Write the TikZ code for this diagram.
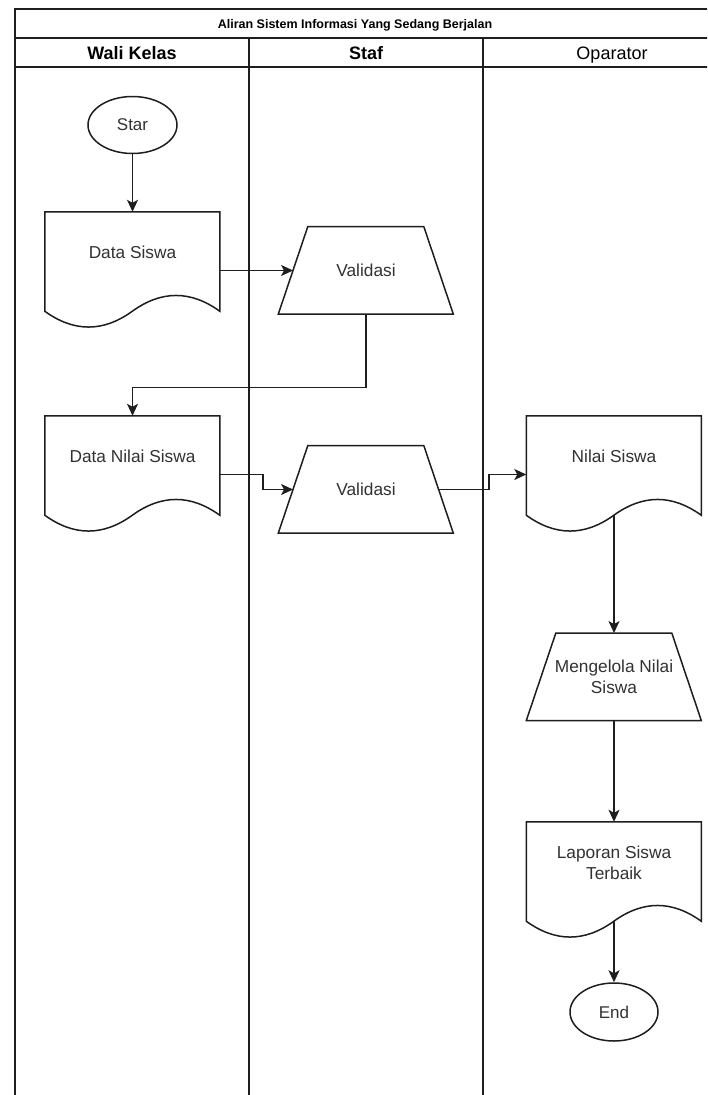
\documentclass[tikz,border=0pt]{standalone}
\usepackage{fontspec}
\setmainfont{Liberation Sans}
\usetikzlibrary{arrows.meta,shapes.geometric,calc}
\definecolor{ln}{RGB}{30,30,30}
\definecolor{tx}{RGB}{50,50,50}
\newcommand{\drawdoc}[1]{%
  \draw[line,shift={(#1.north west)}] (0,0) -- (175,0) -- (175,99.45)
    .. controls (145.83,78.39) and (116.67,78.39) .. (87.5,99.45)
    .. controls (58.33,120.51) and (29.17,120.51) .. (0,99.45) -- cycle;}
\newcommand{\drawtrap}[1]{%
  \draw[line,shift={(#1.north west)}] (0,87.5) -- (29.5,0) -- (145.5,0) -- (175,87.5) -- cycle;}
\begin{document}
\begin{tikzpicture}[x=1pt,y=-1pt,
  line/.style={draw=ln,line width=1.5pt},
  conn/.style={draw=ln,line width=1.5pt,-{Stealth[length=12pt,width=11pt,inset=3pt]}},
  docbox/.style={minimum width=175pt,minimum height=117pt,inner sep=0pt},
  trapbox/.style={minimum width=175pt,minimum height=87.5pt,inner sep=0pt,font=\fontsize{17.3}{21}\selectfont,text=tx,align=center},
  lbl/.style={font=\fontsize{17.3}{21}\selectfont,text=tx,align=center,inner sep=0pt},
  oval/.style={ellipse,draw=ln,line width=1.5pt,inner sep=0pt,font=\fontsize{17}{19}\selectfont,text=tx},
  lane/.style={draw=ln,line width=1.6pt},
  hdr/.style={font=\fontsize{18}{20}\selectfont\bfseries,text=black,inner sep=0pt,anchor=base},
  hdrn/.style={font=\fontsize{18}{20}\selectfont,text=black,inner sep=0pt,anchor=base},
  ttl/.style={font=\fontsize{12.5}{14}\selectfont\bfseries,text=black,inner sep=0pt,anchor=base}
]
\useasboundingbox (0,0) rectangle (707,1095);
\clip (0,0) rectangle (707,1095);
\fill[white] (0,0) rectangle (707,1095);
% pool and lanes
\draw[lane] (15,1100) -- (15,9) -- (750,9);
\draw[lane] (15,38) -- (750,38);
\draw[lane] (15,67) -- (750,67);
\draw[lane] (249,38) -- (249,1100);
\draw[lane] (483,38) -- (483,1100);
\node[ttl] (title) at (355,28) {Aliran Sistem Informasi Yang Sedang Berjalan};
\node[hdr] (lane1) at (132,59) {Wali Kelas};
\node[hdr] (lane2) at (366,59) {Staf};
\node[hdrn] (lane3) at (612,59) {Oparator};
% shapes
\node[oval,minimum width=89pt,minimum height=57pt] (star) at (132.5,125) {Star};
\node[docbox] (ds) at (132.5,270.5) {};
\drawdoc{ds}
\node[lbl] (dst) at ($(ds.north)+(0,41)$) {Data Siswa};
\node[trapbox] (v1) at (366,270.5) {Validasi};
\drawtrap{v1}
\node[docbox] (dns) at (132.5,474.5) {};
\drawdoc{dns}
\node[lbl] (dnst) at ($(dns.north)+(0,41)$) {Data Nilai Siswa};
\node[trapbox] (v2) at (366,489.5) {Validasi};
\drawtrap{v2}
\node[docbox] (ns) at (614,474.5) {};
\drawdoc{ns}
\node[lbl] (nst) at ($(ns.north)+(0,41)$) {Nilai Siswa};
\node[trapbox] (mn) at (614,677) {Mengelola Nilai\\Siswa};
\drawtrap{mn}
\node[docbox] (lap) at (614,880.5) {};
\drawdoc{lap}
\node[lbl] (lapt) at ($(lap.north)+(0,41)$) {Laporan Siswa\\Terbaik};
\node[oval,minimum width=88pt,minimum height=58pt] (end) at (614,1012) {End};
% connectors
\draw[conn] (star.south) -- (ds.north);
\draw[conn] (ds.east) -- ($(v1.west)+(14.75,0)$);
\draw[conn] (v1.south) -- ++(0,73) -| (dns.north);
\draw[conn] (dns.east) -- (263,474.5) -- (263,489.5) -- ($(v2.west)+(14.75,0)$);
\draw[conn] ($(v2.east)+(-14.75,0)$) -- (489,489.5) -- (489,474.5) -- (ns.west);
\draw[conn] ($(ns.north)+(0,99.45)$) -- (mn.north);
\draw[conn] (mn.south) -- (lap.north);
\draw[conn] ($(lap.north)+(0,99.45)$) -- (end.north);
\end{tikzpicture}
\end{document}
